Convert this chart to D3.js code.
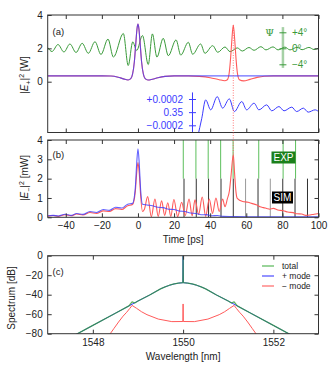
<!DOCTYPE html>
<html>
<head>
<meta charset="utf-8">
<script src="https://cdn.jsdelivr.net/npm/d3@7"></script>
<style>
body { margin: 0; background: #fff; }
svg { font-family: "Liberation Sans", Arial, sans-serif; }
</style>
</head>
<body>
<div id="chart"></div>
<script>
// ---- axes / ticks ----
var timeTicks = [-40, -20, 0, 20, 40, 60, 80, 100];
var powerTicksA = [0, 2, 4];
var powerTicksB = [0, 1, 2, 3, 4];
var insetTicks = [-2, 0, 2];              // deviation from 0.35 W, units of 1e-4 W
var insetLabels = ['\u22120.0002', '0.35', '+0.0002'];
var psiTicks = [-4, 0, 4];
var psiLabels = ['\u22124\u00b0', '0\u00b0', '+4\u00b0'];
var wlTicks = [1548, 1550, 1552];
var dbTicks = [-80, -60, -40, -20, 0];

// ---- panel (a): |E+|^2 [W] ----
var plusA = [[-50,0.35],[-20,0.35],[-15,0.34],[-11,0.27],[-8,0.17],[-5.5,0.1],[-4,0.18],[-3,0.45],
  [-2,1.2],[-1.2,2.3],[-0.5,3.2],[0,3.45],[0.5,3.2],[1.2,2.3],[2,1.2],[3,0.45],[4,0.18],[5.5,0.1],
  [8,0.15],[11,0.24],[15,0.32],[20,0.35],[100,0.35]];
var minusA = [[-50,0.35],[-20,0.35],[-15,0.34],[-11,0.27],[-8,0.17],[-5.5,0.1],[-4,0.18],[-3,0.45],
  [-2,1.2],[-1.2,2.3],[-0.5,3.2],[0,3.45],[0.5,3.2],[1.2,2.3],[2,1.2],[3,0.45],[4,0.18],[5.5,0.1],
  [8,0.15],[11,0.24],[15,0.32],[20,0.35],[28,0.35],[34,0.32],[40,0.24],[45,0.12],[48,0.06],[49.5,0.12],
  [50.5,0.5],[51.3,1.4],[52,2.5],[52.8,3.4],[53.6,2.5],[54.3,1.4],[55.1,0.5],[56.2,0.12],[58.5,0.05],
  [62,0.14],[66,0.26],[70,0.33],[75,0.35],[100,0.35]];
// polarization angle Psi [deg]
var psiA = [[-50,0.2],[-47.6,-0.8],[-44.3,0.95],[-41,-0.93],[-37.7,1.08],[-34.3,-1.05],[-30.9,1.25],
  [-27.5,-1.25],[-23.8,1.65],[-20.5,-1.55],[-16.6,2.3],[-13.6,-2.2],[-8.1,3.7],[-5.4,-4.3],[-2.9,1.6],
  [-0.7,-0.55],[2.5,3.2],[5.7,-4.05],[8,3.6],[10.5,-2.2],[14,2.5],[16.8,-1.85],[21.1,2.1],[23.7,-1.7],
  [27.9,1.5],[30.3,-1.5],[34.7,1.08],[37.1,-1.25],[41.4,0.65],[44.2,-1],[48.2,0.33],[51,-0.85],
  [55,0.1],[57.8,-0.68],[61.5,0.2],[64.3,-0.5],[68.1,0.4],[70.9,-0.4],[74.8,0.35],[77.6,-0.4],
  [81.4,0.3],[84.2,-0.4],[88.1,0.25],[90.9,-0.35],[94.7,0.22],[97.5,-0.3],[100,0.05]];
// zoomed + mode around 0.35 W (units 1e-4 W)
var insetA = [[33.2,-3.6],[35.3,-1],[37.5,1.86],[40.3,0.35],[43.9,2.36],[46.9,0.61],[50.6,2.02],
  [53.4,0.09],[57.5,1.61],[60.2,0.35],[64.3,1.36],[67,0.35],[71.3,1.11],[74.1,0.2],[78.1,0.85],
  [80.9,0.2],[85.2,0.76],[87.9,0.09],[91.6,0.61],[94.3,0],[98.1,0.35],[100,0.1]];
var pulsePeak = [52.8, 3.4, 3.25];   // time, peak in (a) [W], peak in (b) [mW]

// ---- panel (b): |E-|^2 [mW] ----
var plusB = [[-50,0.08],[-47,0.1],[-44,0.07],[-40.4,0.16],[-37,0.1],[-34,0.2],[-30.5,0.15],[-26.6,0.3],
  [-23,0.25],[-19.2,0.4],[-15.8,0.36],[-12.4,0.52],[-9,0.48],[-5.7,0.68],[-3,0.72],[-1.5,1.5],
  [-0.7,2.8],[0,3.55],[0.7,2.8],[1.5,1.4],[2.5,0.68],[5,0.64],[8,0.6],[11,0.52],[14,0.5],[17,0.42],
  [20,0.4],[23,0.32],[26,0.3],[29,0.22],[32,0.2],[35,0.13],[38,0.14],[41,0.08],[44,0.09],[47,0.05],
  [52,0.04],[60,0.03],[70,0.02],[80,0.02],[100,0.02]];
var minusB = [[-50,0.06],[-47,0.09],[-44,0.05],[-40.4,0.13],[-37,0.08],[-34,0.17],[-30.5,0.12],
  [-26.6,0.25],[-23,0.2],[-19.2,0.33],[-15.8,0.3],[-12.4,0.45],[-9,0.4],[-5.7,0.6],[-3,0.66],
  [-1.5,1.3],[-0.7,2.3],[0,2.83],[0.7,2.3],[1.5,1.1],[2.5,0.3],[3.5,0.4],[5.4,1.07],[7.4,0.03],
  [9.4,0.95],[11.2,0.05],[13.1,0.85],[14.8,0.1],[16.5,0.75],[18.2,0.04],[19.9,0.92],[22,0.03],
  [24.2,0.78],[26.2,0.1],[28.3,0.95],[30,0.08],[31.6,0.9],[33.6,0.15],[35.6,1.05],[37.5,0.05],
  [39.5,0.95],[41.3,0.2],[43.2,1],[45,0.3],[46.9,0.95],[48.2,0.55],[49.5,0.95],[50.7,1.4],
  [51.6,2.2],[52.8,3.25],[53.5,2.3],[54.3,1.3],[55,0.98],[58,0.82],[61,0.78],[63,0.72],[65.5,0.65],
  [67.6,0.55],[69.5,0.5],[71.3,0.46],[73,0.42],[75,0.46],[77.5,0.38],[80.5,0.34],[83,0.27],
  [86,0.24],[88,0.18],[90.7,0.17],[93,0.1],[95.3,0.12],[97.5,0.16],[100,0.2]];
var expTimes = [25.1, 32.1, 38.9, 45.8, 52.7, 66.9, 80.4, 87.3];
var simTimes = [25.5, 32.3, 39.1, 46.0, 52.8, 59.6, 66.5, 73.3, 80.2, 87.0, 93.9];
var simFaint = [59.6, 73.3];

// ---- panel (c): spectrum [dB] ----
var totalC = [[1547.5,-84],[1548,-71.5],[1548.5,-59],[1548.8,-51.5],[1548.87,-47.3],[1548.93,-48.5],
  [1549,-46.5],[1549.26,-40.3],[1549.5,-34],[1549.6,-32],[1549.7,-30.3],[1549.8,-29],[1549.9,-28.1],
  [1549.995,-27.7],[1550,0],[1550.005,-27.7],[1550.1,-28.1],[1550.2,-29],[1550.3,-30.3],[1550.4,-32],
  [1550.5,-34],[1550.74,-40.3],[1551,-46.5],[1551.07,-48.5],[1551.13,-47.3],[1551.2,-51.5],
  [1551.5,-59],[1552,-71.5],[1552.5,-84]];
var plusC = [[1547.5,-84],[1548,-71.5],[1548.5,-59],[1549,-46.5],[1549.26,-40.3],[1549.5,-34],
  [1549.6,-32],[1549.7,-30.3],[1549.8,-29],[1549.9,-28.1],[1549.995,-27.7],[1550,0],[1550.005,-27.7],
  [1550.1,-28.1],[1550.2,-29],[1550.3,-30.3],[1550.4,-32],[1550.5,-34],[1550.74,-40.3],[1551,-46.5],
  [1551.5,-59],[1552,-71.5],[1552.5,-84]];
var minusC = [[1548.3,-86],[1548.37,-81],[1548.47,-74.5],[1548.57,-68],[1548.67,-62],[1548.75,-58],
  [1548.82,-54],[1548.87,-51],[1548.97,-54],[1549.08,-57.5],[1549.2,-60.5],[1549.45,-65],
  [1549.75,-67.6],[1549.995,-67.5],[1550,-49.5],[1550.005,-67.5],[1550.25,-67.6],[1550.55,-65],
  [1550.8,-60.5],[1550.92,-57.5],[1551.03,-54],[1551.13,-51],[1551.18,-54],[1551.25,-58],
  [1551.33,-62],[1551.43,-68],[1551.53,-74.5],[1551.63,-81],[1551.7,-86]];
var legendC = ['total', '+ mode', '\u2212 mode'];

// ---- colours ----
var blue = '#3b3bff', red = '#ff5a5a', green = '#3a9a3a';

var W = 331, H = 381;
var left = 47.7, right = 318.5;
var svg = d3.select('#chart').append('svg').attr('width', W).attr('height', H);

var xT = d3.scaleLinear().domain([-50, 100]).range([left, right]);
var yA = d3.scaleLinear().domain([0, 4]).range([81.7, 15]);
var yPsi = d3.scaleLinear().domain([-4, 4]).range([64.3, 32.3]);
var yIn = d3.scaleLinear().domain([-2, 2]).range([125.3, 99]);
var yB = d3.scaleLinear().domain([0, 4]).range([217.3, 140]);
var xL = d3.scaleLinear().domain([1547, 1553]).range([left, right]);
var yC = d3.scaleLinear().domain([-80, 0]).range([333.7, 255.7]);

var panA = {top: 15, bottom: 132.5}, panB = {top: 140, bottom: 217.3}, panC = {top: 255.7, bottom: 333.7};

var defs = svg.append('defs');
function clip(id, p) {
    defs.append('clipPath').attr('id', id).append('rect')
        .attr('x', left).attr('y', p.top).attr('width', right - left).attr('height', p.bottom - p.top);
}
clip('clipA', panA); clip('clipB', panB); clip('clipC', panC);

function styleAxis(g) {
    g.select('.domain').remove();
    g.selectAll('line').attr('stroke', '#333');
    g.selectAll('text').attr('font-size', '10px').attr('fill', '#222');
}
function frame(p, xs, ys, xticks, yticks, xlabels) {
    svg.append('g').attr('transform', 'translate(0,' + p.bottom + ')')
        .call(d3.axisBottom(xs).tickValues(xticks).tickSizeInner(-4).tickSizeOuter(0).tickPadding(5)
            .tickFormat(xlabels ? d3.format('d') : ''))
        .call(styleAxis);
    svg.append('g').attr('transform', 'translate(0,' + p.top + ')')
        .call(d3.axisTop(xs).tickValues(xticks).tickSizeInner(-4).tickSizeOuter(0).tickFormat(''))
        .call(styleAxis);
    svg.append('g').attr('transform', 'translate(' + left + ',0)')
        .call(d3.axisLeft(ys).tickValues(yticks).tickSizeInner(-4).tickSizeOuter(0).tickPadding(5)
            .tickFormat(function (d) { return d < 0 ? '\u2212' + (-d) : d; }))
        .call(styleAxis);
    svg.append('g').attr('transform', 'translate(' + right + ',0)')
        .call(d3.axisRight(ys).tickValues(yticks).tickSizeInner(-4).tickSizeOuter(0).tickFormat(''))
        .call(styleAxis);
    svg.append('rect').attr('x', left).attr('y', p.top)
        .attr('width', right - left).attr('height', p.bottom - p.top)
        .attr('fill', 'none').attr('stroke', '#333').attr('stroke-width', 1);
}

function line(xs, ys, curve) {
    return d3.line().x(function (d) { return xs(d[0]); }).y(function (d) { return ys(d[1]); }).curve(curve);
}
function drawPath(g, data, gen, color, width, opacity) {
    g.append('path').datum(data).attr('d', gen)
        .attr('fill', 'none').attr('stroke', color)
        .attr('stroke-width', width || 1).attr('stroke-opacity', opacity || 1)
        .attr('stroke-linejoin', 'round');
}

// ================= panel (a) =================
var gA = svg.append('g').attr('clip-path', 'url(#clipA)');
var mono = d3.curveMonotoneX;
drawPath(gA, psiA, line(xT, yPsi, mono), green, 1);
drawPath(gA, minusA, line(xT, yA, mono), red, 1.1);
drawPath(gA, plusA, line(xT, yA, mono), blue, 1.1, 0.75);
drawPath(gA, insetA, line(xT, function (v) { return yIn(v); }, mono), blue, 1);

// inset axis for + mode deviation
var inX = xT(30.2);
svg.append('line').attr('x1', inX).attr('x2', inX).attr('y1', yIn(3)).attr('y2', panA.bottom)
    .attr('stroke', blue).attr('stroke-width', 1);
var gIn = svg.append('g').attr('transform', 'translate(' + inX + ',0)')
    .call(d3.axisLeft(yIn).tickValues(insetTicks).tickSizeInner(3).tickSizeOuter(0).tickPadding(6.5)
        .tickFormat(function (d, i) { return insetLabels[i]; }));
gIn.select('.domain').remove();
gIn.selectAll('line').attr('x2', -3.5).attr('x1', 3.5).attr('stroke', blue);
gIn.selectAll('text').attr('font-size', '10px').attr('fill', blue);

// Psi axis
var psiX = xT(80.3);
svg.append('line').attr('x1', psiX).attr('x2', psiX).attr('y1', yPsi(5.3)).attr('y2', yPsi(-4.9))
    .attr('stroke', green).attr('stroke-width', 2.5).attr('stroke-opacity', 0.45);
var gPsi = svg.append('g').attr('transform', 'translate(' + psiX + ',0)')
    .call(d3.axisRight(yPsi).tickValues(psiTicks).tickSizeInner(3).tickSizeOuter(0).tickPadding(6)
        .tickFormat(function (d, i) { return psiLabels[i]; }));
gPsi.select('.domain').remove();
gPsi.selectAll('line').attr('x1', -3.5).attr('x2', 3.5).attr('stroke', green);
gPsi.selectAll('text').attr('font-size', '10px').attr('fill', green);
svg.append('text').attr('x', psiX - 9).attr('y', yPsi(3.2)).attr('text-anchor', 'end')
    .attr('font-size', '10px').attr('fill', green).attr('font-family', 'DejaVu Serif')
    .text('\u03a8');

frame(panA, xT, yA, timeTicks, powerTicksA, false);

// ================= panel (b) =================
var gB = svg.append('g').attr('clip-path', 'url(#clipB)');
gB.selectAll('line.exp').data(expTimes).enter().append('line').attr('class', 'exp')
    .attr('x1', function (d) { return xT(d); }).attr('x2', function (d) { return xT(d); })
    .attr('y1', yB(4)).attr('y2', yB(2))
    .attr('stroke', '#5cbf5c').attr('stroke-width', 1);
gB.selectAll('line.sim').data(simTimes).enter().append('line').attr('class', 'sim')
    .attr('x1', function (d) { return xT(d); }).attr('x2', function (d) { return xT(d); })
    .attr('y1', yB(2)).attr('y2', yB(0))
    .attr('stroke', function (d) { return simFaint.indexOf(d) >= 0 ? '#999' : '#333'; })
    .attr('stroke-width', 1);
drawPath(gB, minusB, line(xT, yB, mono), red, 1.1);
drawPath(gB, plusB, line(xT, yB, mono), blue, 1.1, 0.8);

// markers
function tag(x, y, w, h, bg, txt) {
    svg.append('rect').attr('x', x).attr('y', y).attr('width', w).attr('height', h).attr('fill', bg);
    svg.append('text').attr('x', x + w / 2).attr('y', y + h / 2 + 3.5).attr('text-anchor', 'middle')
        .attr('font-size', '10px').attr('fill', '#fff').text(txt);
}
tag(271.5, 151.5, 24, 12, '#1b801b', 'EXP');
tag(272, 191.5, 21, 12, '#000', 'SIM');

frame(panB, xT, yB, timeTicks, powerTicksB, true);

// dotted guide linking the two pulses
svg.append('line').attr('x1', xT(pulsePeak[0])).attr('x2', xT(pulsePeak[0]))
    .attr('y1', yA(pulsePeak[1])).attr('y2', yB(pulsePeak[2]))
    .attr('stroke', red).attr('stroke-width', 0.8).attr('stroke-dasharray', '1,1.5');

// ================= panel (c) =================
var gC = svg.append('g').attr('clip-path', 'url(#clipC)');
var lin = d3.curveLinear;
drawPath(gC, minusC, line(xL, yC, lin), red, 1);
drawPath(gC, plusC, line(xL, yC, lin), blue, 1);
drawPath(gC, totalC, line(xL, yC, lin), '#2c9a2c', 1.3, 0.75);

var legColors = ['#8fd08f', blue, red];
legendC.forEach(function (name, i) {
    var y = 266 + i * 10;
    svg.append('line').attr('x1', 262).attr('x2', 274).attr('y1', y).attr('y2', y)
        .attr('stroke', legColors[i]).attr('stroke-width', i === 0 ? 1.8 : 1.1);
    svg.append('text').attr('x', 282).attr('y', y + 3).attr('font-size', '8.5px').attr('fill', '#222').text(name);
});

frame(panC, xL, yC, wlTicks, dbTicks, true);

// ================= labels =================
function panelLabel(x, y, t) {
    svg.append('text').attr('x', x).attr('y', y).attr('font-size', '9.5px').attr('fill', '#222').text(t);
}
panelLabel(52.5, 35, '(a)');
panelLabel(52.5, 157.5, '(b)');
panelLabel(52.5, 274.5, '(c)');

function yTitle(x, y, parts) {
    var t = svg.append('text').attr('transform', 'translate(' + x + ',' + y + ') rotate(-90)')
        .attr('text-anchor', 'middle').attr('font-size', '10px').attr('fill', '#222');
    parts.forEach(function (p) {
        var s = t.append('tspan').text(p.t);
        if (p.i) s.attr('font-style', 'italic');
        if (p.dy) s.attr('dy', p.dy);
        if (p.fs) s.attr('font-size', p.fs);
    });
}
yTitle(28, 75, [{t: '|'}, {t: 'E', i: 1}, {t: '+', dy: 2.5, fs: '7px'}, {t: '|', dy: -2.5}, {t: '2', dy: -4, fs: '7px'}, {t: ' [W]', dy: 4}]);
yTitle(28, 178, [{t: '|'}, {t: 'E', i: 1}, {t: '\u2212', dy: 2.5, fs: '7px'}, {t: '|', dy: -2.5}, {t: '2', dy: -4, fs: '7px'}, {t: ' [mW]', dy: 4}]);
yTitle(15, 298, [{t: 'Spectrum [dB]'}]);

svg.append('text').attr('x', (left + right) / 2).attr('y', 243).attr('text-anchor', 'middle')
    .attr('font-size', '10px').attr('fill', '#222').text('Time [ps]');
svg.append('text').attr('x', (left + right) / 2).attr('y', 360).attr('text-anchor', 'middle')
    .attr('font-size', '10px').attr('fill', '#222').text('Wavelength [nm]');
</script>
</body>
</html>
